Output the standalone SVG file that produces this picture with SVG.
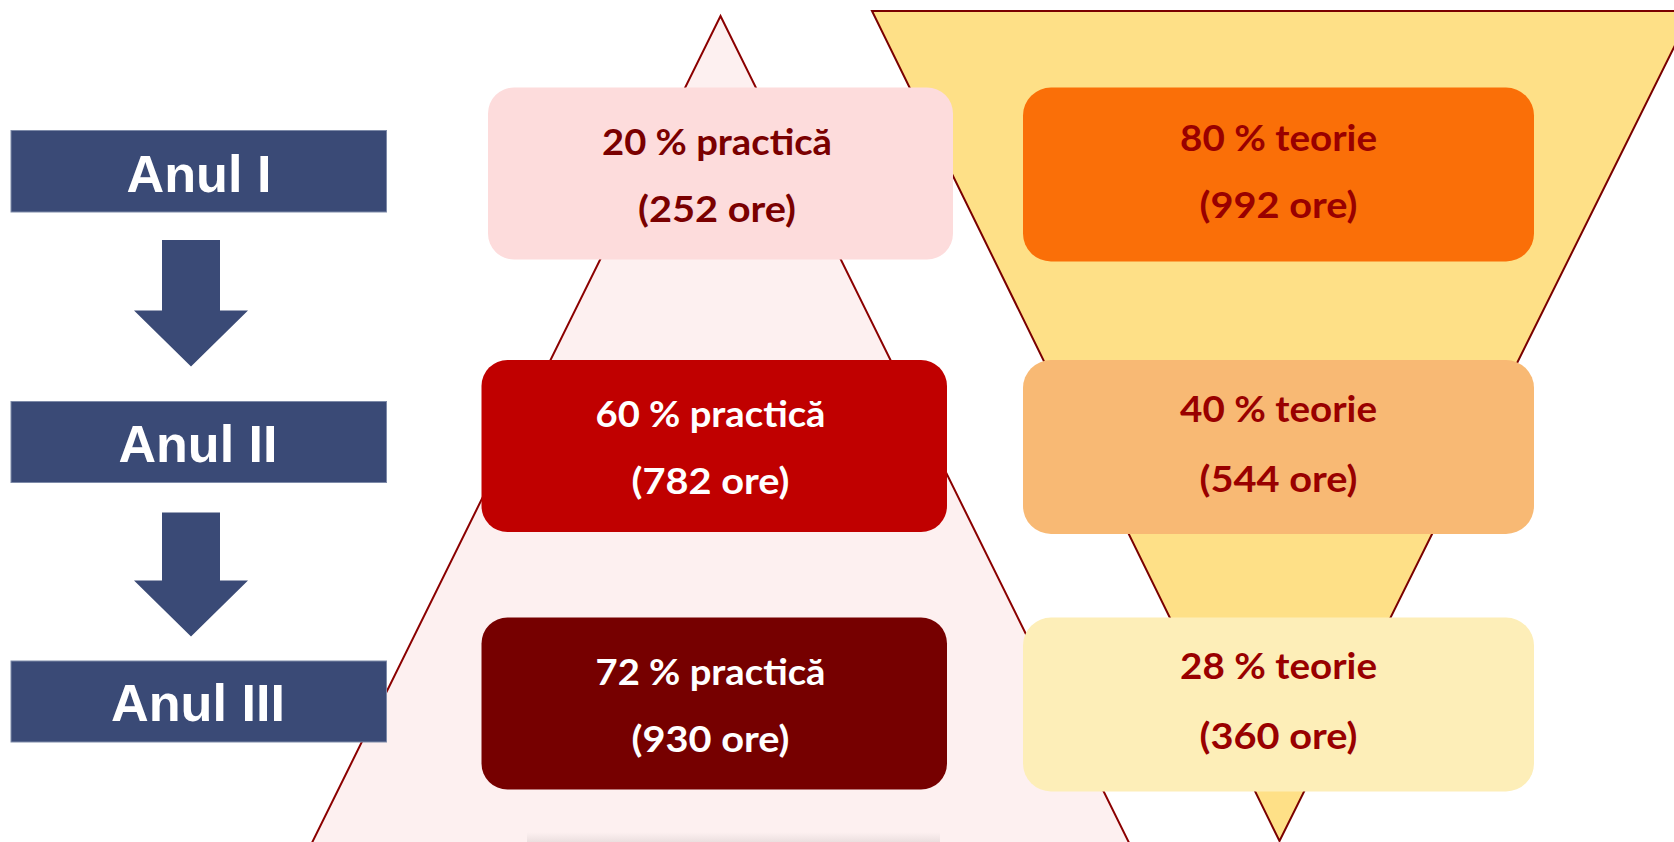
<svg xmlns="http://www.w3.org/2000/svg" width="1674" height="842" viewBox="0 0 1674 842">
  <defs>
    <linearGradient id="shadow" x1="0" y1="0" x2="0" y2="1">
      <stop offset="0" stop-color="#eadede" stop-opacity="0"/>
      <stop offset="1" stop-color="#e6dada" stop-opacity="0.8"/>
    </linearGradient>
    <style>
      .year rect { fill: #3a4a76; stroke: #7d8aa8; stroke-width: 1; }
      .year text { font-family: "Liberation Sans", Arial, sans-serif; font-weight: bold; font-size: 52px; fill: #ffffff; text-anchor: middle; }
      .arrow { fill: #3a4a76; }
      .lbl { font-family: Lato, "Open Sans", "Noto Sans", sans-serif; font-weight: bold; font-size: 37px; text-anchor: middle; }
      .dark { fill: #7a0000; }
      .red { fill: #990000; }
      .white { fill: #ffffff; }
    </style>
  </defs>

  <rect width="1674" height="842" fill="#ffffff"/>

  <!-- background shapes -->
  <polygon id="pyramid" points="720.5,16 1140,865 301,865" fill="#fdf0f0" stroke="#8b0000" stroke-width="2"/>
  <rect x="527" y="832" width="413" height="10" fill="url(#shadow)"/>
  <polygon id="funnel" points="872,11 1692,11 1279.5,841" fill="#fee087" stroke="#7a0000" stroke-width="2"/>

  <!-- year nodes -->
  <g id="anul1" class="year">
    <rect x="11" y="130.5" width="375.5" height="81.5"/>
    <text x="199" y="192" textLength="145" lengthAdjust="spacingAndGlyphs">Anul I</text>
  </g>
  <g id="anul2" class="year">
    <rect x="11" y="401.5" width="375.5" height="81"/>
    <text x="198" y="462" textLength="159" lengthAdjust="spacingAndGlyphs">Anul II</text>
  </g>
  <g id="anul3" class="year">
    <rect x="11" y="661" width="375.5" height="81"/>
    <text x="198" y="721" textLength="174" lengthAdjust="spacingAndGlyphs">Anul III</text>
  </g>

  <!-- connectors -->
  <g id="connectors">
    <polygon class="arrow" points="162,240 220,240 220,310.5 248,310.5 191,366.5 134,310.5 162,310.5"/>
    <polygon class="arrow" points="162,512.5 220,512.5 220,580.5 248,580.5 191,636.5 134,580.5 162,580.5"/>
  </g>

  <!-- practice boxes -->
  <g id="practica1">
    <rect x="488" y="87.5" width="465" height="172" rx="26" fill="#fddcdc"/>
    <text class="lbl dark" x="717" y="155" textLength="230" lengthAdjust="spacingAndGlyphs">20 % practică</text>
    <text class="lbl dark" x="717" y="221.5" textLength="158" lengthAdjust="spacingAndGlyphs">(252 ore)</text>
  </g>
  <g id="practica2">
    <rect x="481.5" y="360" width="465.5" height="172" rx="26" fill="#c00000"/>
    <text class="lbl white" x="710.5" y="427" textLength="230" lengthAdjust="spacingAndGlyphs">60 % practică</text>
    <text class="lbl white" x="710.5" y="493.5" textLength="158" lengthAdjust="spacingAndGlyphs">(782 ore)</text>
  </g>
  <g id="practica3">
    <rect x="481.5" y="617.5" width="465.5" height="172" rx="26" fill="#760000"/>
    <text class="lbl white" x="710.5" y="685" textLength="230" lengthAdjust="spacingAndGlyphs">72 % practică</text>
    <text class="lbl white" x="710.5" y="751.5" textLength="158" lengthAdjust="spacingAndGlyphs">(930 ore)</text>
  </g>

  <!-- theory boxes -->
  <g id="teorie1">
    <rect x="1023" y="87.5" width="511" height="174" rx="28" fill="#fa6f08"/>
    <text class="lbl red" x="1278.5" y="150.5" textLength="197" lengthAdjust="spacingAndGlyphs">80 % teorie</text>
    <text class="lbl red" x="1278.5" y="218" textLength="158" lengthAdjust="spacingAndGlyphs">(992 ore)</text>
  </g>
  <g id="teorie2">
    <rect x="1023" y="360" width="511" height="174" rx="28" fill="#f8b974"/>
    <text class="lbl red" x="1278.5" y="421.5" textLength="197" lengthAdjust="spacingAndGlyphs">40 % teorie</text>
    <text class="lbl red" x="1278.5" y="491.5" textLength="158" lengthAdjust="spacingAndGlyphs">(544 ore)</text>
  </g>
  <g id="teorie3">
    <rect x="1023" y="617.5" width="511" height="174" rx="28" fill="#fdeeb8"/>
    <text class="lbl red" x="1278.5" y="679" textLength="197" lengthAdjust="spacingAndGlyphs">28 % teorie</text>
    <text class="lbl red" x="1278.5" y="749" textLength="158" lengthAdjust="spacingAndGlyphs">(360 ore)</text>
  </g>
</svg>
